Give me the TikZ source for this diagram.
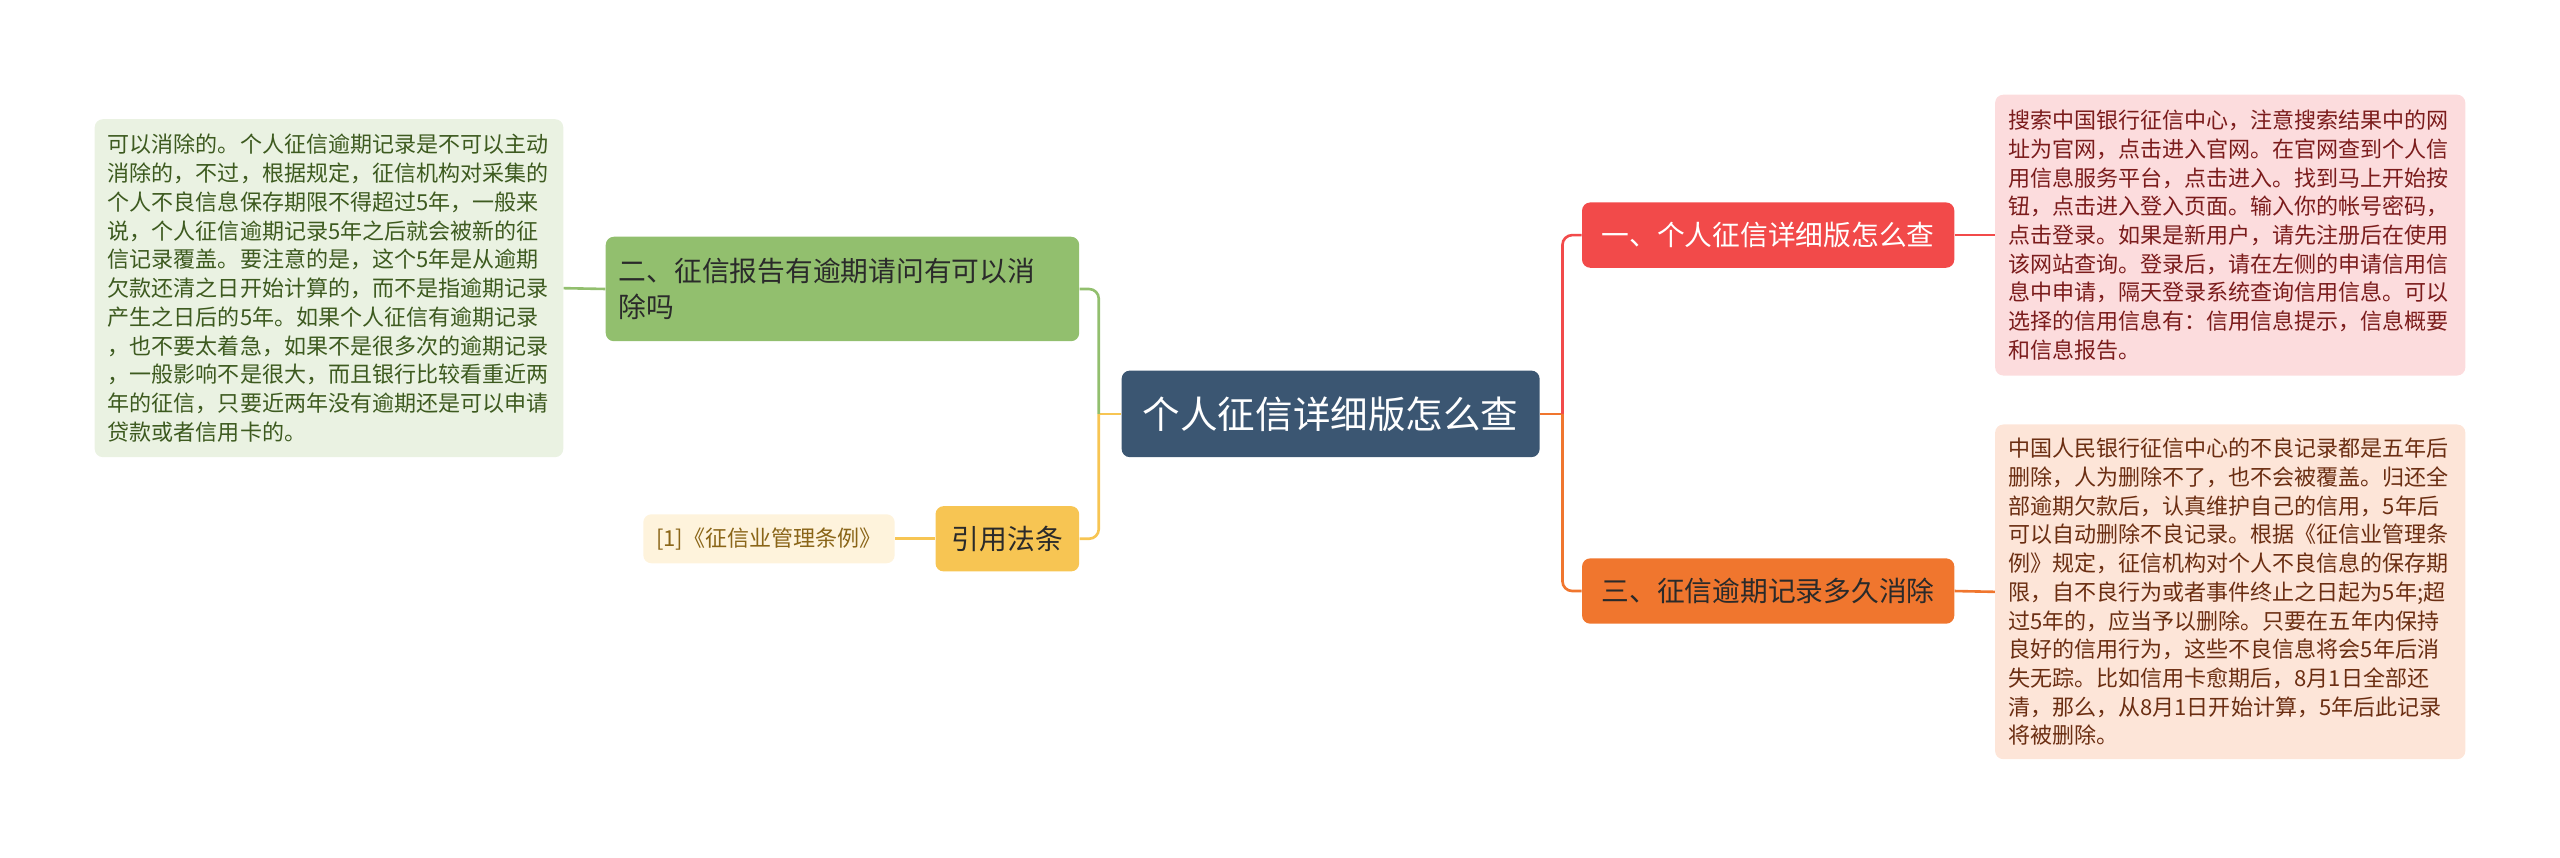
\documentclass[tikz,border=0pt]{standalone}
\usepackage{fontspec}
\setmainfont{Noto Sans CJK SC}
\definecolor{cBlue}{HTML}{3B5672}
\definecolor{cRed}{HTML}{F24A4A}
\definecolor{cOrange}{HTML}{F0762E}
\definecolor{cYellow}{HTML}{F7C553}
\definecolor{cGreen}{HTML}{92BF6E}
\definecolor{cLeafG}{HTML}{EAF2E2}
\definecolor{cPink}{HTML}{FCDCDD}
\definecolor{cPeach}{HTML}{FDE5D8}
\definecolor{cCream}{HTML}{FEF3DC}
\definecolor{tGreen}{HTML}{3D5A1F}
\definecolor{tRed}{HTML}{7B1C1C}
\definecolor{tBrown}{HTML}{6B2E12}
\definecolor{tCream}{HTML}{8A6518}
\definecolor{tDark}{HTML}{2A2A2A}
\tikzset{
  box/.style={rectangle, rounded corners=5pt, draw=none, inner sep=0pt},
  centerbox/.style={box, fill=cBlue, text=white, font=\fontsize{23pt}{28pt}\selectfont, minimum width=256pt, minimum height=53pt},
  branchbox/.style={box, font=\fontsize{17pt}{22pt}\selectfont, minimum height=40pt},
  textbox/.style={box, inner xsep=8pt, align=left, font=\fontsize{13.5pt}{17.6pt}\selectfont},
  conn/.style={line width=1.6pt, rounded corners=6pt}
}
\begin{document}
\begin{tikzpicture}[x=1pt,y=-1pt]
\useasboundingbox (0,0) rectangle (1568,525);
% center
\node[centerbox] (C) at (815,253.5) {个人征信详细版怎么查};
% left branches
\node[branchbox, fill=cGreen, text=tDark, minimum width=290pt, minimum height=64pt, text width=274pt, inner xsep=8pt, align=left] (G) at (516,177) {二、征信报告有逾期请问有可以消\\除吗};
\node[branchbox, fill=cYellow, text=tDark, minimum width=88pt] (Y) at (617,330) {引用法条};
\node[box, fill=cCream, text=tCream, font=\fontsize{13.5pt}{16pt}\selectfont, minimum width=154pt, minimum height=30pt] (K) at (471,330) {[1]《征信业管理条例》};
\node[textbox, fill=cLeafG, text=tGreen, text width=271pt, minimum height=207pt] (L) at (201.5,176.5) {可以消除的。个人征信逾期记录是不可以主动\\消除的，不过，根据规定，征信机构对采集的\\个人不良信息保存期限不得超过5年，一般来\\说，个人征信逾期记录5年之后就会被新的征\\信记录覆盖。要注意的是，这个5年是从逾期\\欠款还清之日开始计算的，而不是指逾期记录\\产生之日后的5年。如果个人征信有逾期记录\\，也不要太着急，如果不是很多次的逾期记录\\，一般影响不是很大，而且银行比较看重近两\\年的征信，只要近两年没有逾期还是可以申请\\贷款或者信用卡的。};
% right branches
\node[branchbox, fill=cRed, text=white, minimum width=228pt] (R) at (1083,144) {一、个人征信详细版怎么查};
\node[branchbox, fill=cOrange, text=tDark, minimum width=228pt] (O) at (1083,362) {三、征信逾期记录多久消除};
\node[textbox, fill=cPink, text=tRed, text width=272pt, minimum height=172pt] (P) at (1366,144) {搜索中国银行征信中心，注意搜索结果中的网\\址为官网，点击进入官网。在官网查到个人信\\用信息服务平台，点击进入。找到马上开始按\\钮，点击进入登入页面。输入你的帐号密码，\\点击登录。如果是新用户，请先注册后在使用\\该网站查询。登录后，请在左侧的申请信用信\\息中申请，隔天登录系统查询信用信息。可以\\选择的信用信息有：信用信息提示，信息概要\\和信息报告。};
\node[textbox, fill=cPeach, text=tBrown, text width=272pt, minimum height=205pt] (Q) at (1366,362.5) {中国人民银行征信中心的不良记录都是五年后\\删除，人为删除不了，也不会被覆盖。归还全\\部逾期欠款后，认真维护自己的信用，5年后\\可以自动删除不良记录。根据《征信业管理条\\例》规定，征信机构对个人不良信息的保存期\\限，自不良行为或者事件终止之日起为5年;超\\过5年的，应当予以删除。只要在五年内保持\\良好的信用行为，这些不良信息将会5年后消\\失无踪。比如信用卡愈期后，8月1日全部还\\清，那么，从8月1日开始计算，5年后此记录\\将被删除。};
% junctions
\coordinate (jl) at (673,253.5);
\coordinate (jr) at (957,253.5);
% connectors left
\draw[conn, draw=cYellow] (C.west) -- (jl);
\draw[conn, draw=cYellow] (jl) |- (Y.east);
\draw[conn, draw=cGreen] (jl) |- (G.east);
\draw[conn, draw=cGreen] (G.west) -- (L.east);
\draw[conn, draw=cYellow] (Y.west) -- (K.east);
% connectors right
\draw[conn, draw=cOrange] (C.east) -- (jr);
\draw[conn, draw=cRed] (jr) |- (R.west);
\draw[conn, draw=cOrange] (jr) |- (O.west);
\draw[conn, draw=cRed] (R.east) -- (P.west);
\draw[conn, draw=cOrange] (O.east) -- (Q.west);
\end{tikzpicture}
\end{document}
